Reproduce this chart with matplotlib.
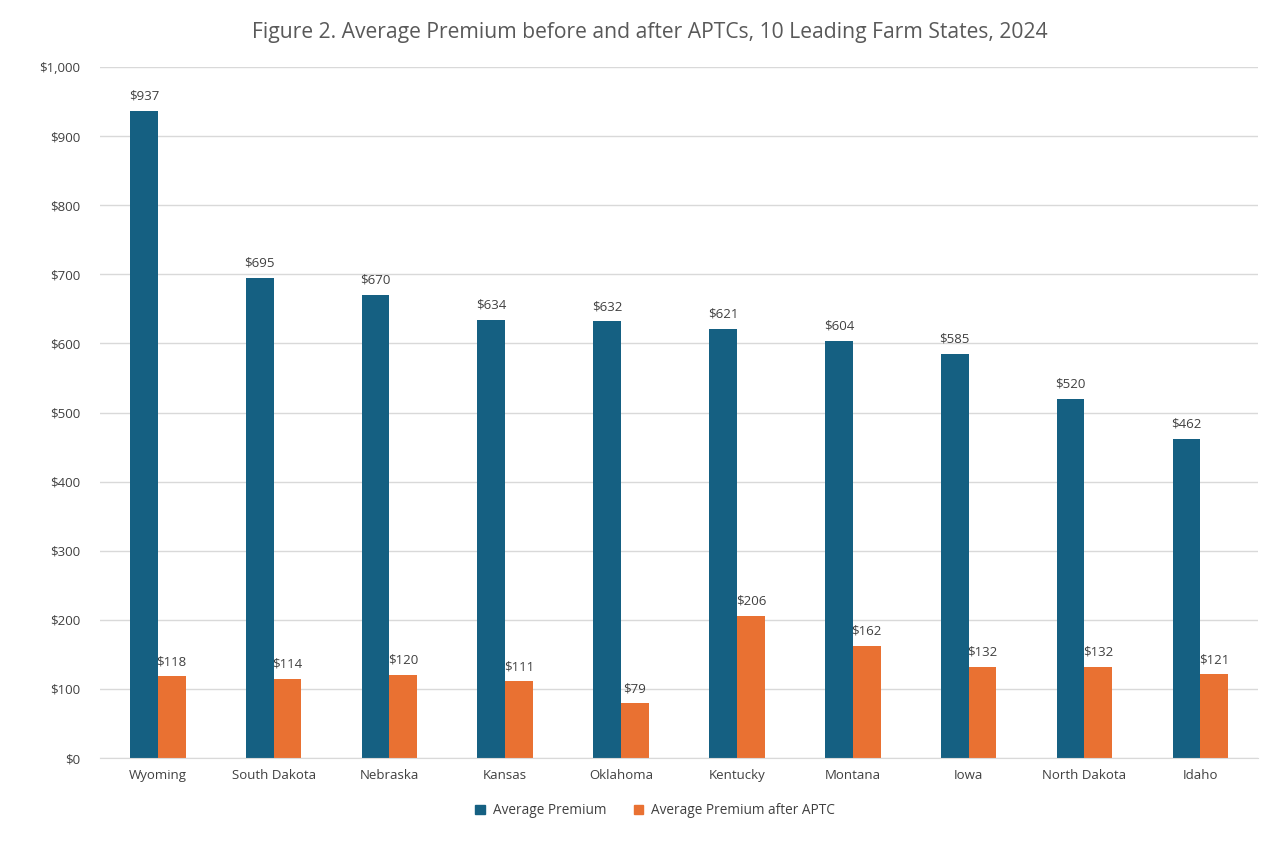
import matplotlib
matplotlib.use("Agg")
import matplotlib.pyplot as plt
import numpy as np
from matplotlib.patches import Patch

states = ["Wyoming", "South Dakota", "Nebraska", "Kansas", "Oklahoma",
          "Kentucky", "Montana", "Iowa", "North Dakota", "Idaho"]
avg_premium = [937, 695, 670, 634, 632, 621, 604, 585, 520, 462]
after_aptc = [118, 114, 120, 111, 79, 206, 162, 132, 132, 121]
yticks = [0, 100, 200, 300, 400, 500, 600, 700, 800, 900, 1000]

plt.rcParams['font.family'] = ['Open Sans', 'DejaVu Sans']
blue = "#156082"
orange = "#E97132"
txt = "#404040"

fig = plt.figure(figsize=(12.8, 8.43), dpi=100)
ax = fig.add_axes([0.078, 0.1008, 0.905, 0.8197])

x = np.arange(len(states))
w = 0.24
b1 = ax.bar(x - w/2, avg_premium, w, color=blue, label="Average Premium", zorder=3)
b2 = ax.bar(x + w/2, after_aptc, w, color=orange, label="Average Premium after APTC", zorder=3)

for rect, v in zip(b1, avg_premium):
    ax.text(rect.get_x() + rect.get_width()/2, v + 12, f"${v}", ha="center", va="bottom",
            fontsize=9.5, color=txt)
for rect, v in zip(b2, after_aptc):
    ax.text(rect.get_x() + rect.get_width()/2, v + 12, f"${v}", ha="center", va="bottom",
            fontsize=9.5, color=txt)

ax.set_xlim(-0.5, len(states) - 0.5)
ax.set_ylim(0, 1000)
ax.set_yticks(yticks)
ax.set_yticklabels([f"${v:,}" for v in yticks])
ax.set_xticks(x)
ax.set_xticklabels(states)
ax.tick_params(axis="both", length=0, labelsize=9.5, colors=txt)
ax.tick_params(axis="y", pad=14)
ax.tick_params(axis="x", pad=8)
ax.grid(axis="y", color="#D9D9D9", linewidth=1, zorder=0)
for s in ["top", "right", "left"]:
    ax.spines[s].set_visible(False)
ax.spines["bottom"].set_color("#D9D9D9")
ax.spines["bottom"].set_zorder(4)

fig.text(0.508, 0.961, "Figure 2. Average Premium before and after APTCs, 10 Leading Farm States, 2024",
         ha="center", va="center", fontsize=15.2, color="#595959")

handles = [Patch(color=blue, label="Average Premium"),
           Patch(color=orange, label="Average Premium after APTC")]
fig.legend(handles=handles, loc="center", bbox_to_anchor=(0.512, 0.038), ncol=2, frameon=False,
           fontsize=9.8, labelcolor=txt, handlelength=0.7, handleheight=0.7, columnspacing=2.0,
           handletextpad=0.6)

fig.savefig("out.png", dpi=100, facecolor="white")
